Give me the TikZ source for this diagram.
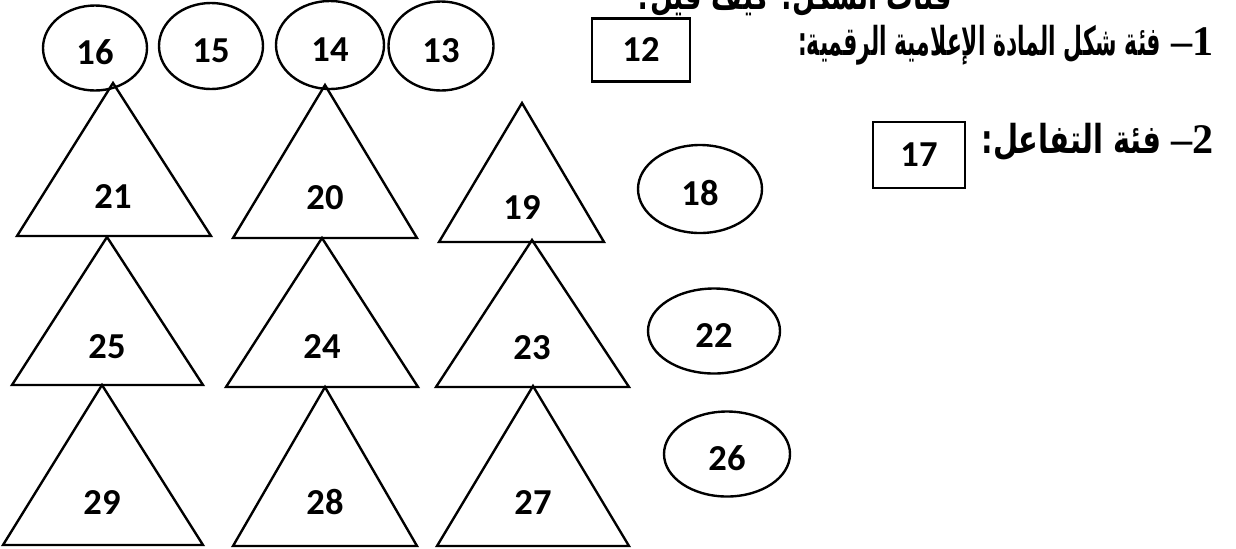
\documentclass[tikz,border=0pt]{standalone}
\usepackage{fontspec}
\usepackage{graphicx}
\usetikzlibrary{shapes.geometric,positioning}
\TeXXeTstate=1
\newfontfamily\numfont{Carlito}
\newfontfamily\arabicfont[Script=Arabic]{DejaVu Sans}
\newfontfamily\digitfont{Liberation Serif Bold}
\newcommand{\headnum}[1]{{\digitfont\fontsize{30}{34}\selectfont –#1}}

\begin{document}
\begin{tikzpicture}[line width=1.7pt,
    oval/.style={ellipse, draw, inner sep=0pt, text height=0.82cm, text depth=0pt, font=\numfont\bfseries\fontsize{26}{30}\selectfont},
    box/.style={rectangle, draw, inner sep=0pt, font=\numfont\bfseries\fontsize{26}{30}\selectfont},
    num/.style={inner sep=0pt, font=\numfont\bfseries\fontsize{26}{30}\selectfont},
    tri/.style={line join=miter},
    rtl/.style={anchor=base east, inner sep=0pt, font=\arabicfont\bfseries\fontsize{21}{26}\selectfont}]

    \useasboundingbox (0,0) rectangle (30.9,-13.7);

    % Headings
    \node[rtl] (head0) at (23.825,-0.225) {\scalebox{0.9}[1.3]{\beginR فئات الشكل: كيف قيل؟\endR}};
    \node[rtl] (head1) at (30.375,-1.375) {\scalebox{0.74}[1.35]{\beginR فئة شكل المادة الإعلامية الرقمية:\endR}\ \headnum{1}};
    \node[rtl] (head2) at (30.375,-3.83) {\scalebox{0.98}[1.35]{\beginR فئة التفاعل:\endR}\ \headnum{2}};

    % Top row
    \node[oval, minimum width=2.6cm, minimum height=2.125cm] (o16) at (2.375,-1.2) {16};
    \node[oval, minimum width=2.6cm, minimum height=2.15cm] (o15) at (5.275,-1.15) {15};
    \node[oval, minimum width=2.7cm, minimum height=2.2cm] (o14) at (8.25,-1.125) {14};
    \node[oval, minimum width=2.625cm, minimum height=2.225cm] (o13) at (11.025,-1.15) {13};
    \node[box, minimum width=2.45cm, minimum height=1.575cm] (b12) at (16.025,-1.25) {12};
    \node[box, minimum width=2.3cm, minimum height=1.65cm] (b17) at (22.975,-3.875) {17};

    % Right column
    \node[oval, minimum width=3.1cm, minimum height=2.2cm] (o18) at (17.5,-4.725) {18};
    \node[oval, minimum width=3.3cm, minimum height=2.125cm] (o22) at (17.85,-8.275) {22};
    \node[oval, minimum width=3.15cm, minimum height=2.125cm] (o26) at (18.175,-11.35) {26};

    % Triangles, first row
    \draw[tri] (2.825,-2.075) -- (5.275,-5.9) -- (0.425,-5.9) -- cycle;
    \node[num] (t21) at (2.825,-4.925) {21};
    \draw[tri] (8.125,-2.125) -- (10.425,-5.95) -- (5.825,-5.95) -- cycle;
    \node[num] (t20) at (8.125,-4.95) {20};
    \draw[tri] (13.05,-2.575) -- (15.1,-6.05) -- (10.975,-6.05) -- cycle;
    \node[num] (t19) at (13.05,-5.2) {19};

    % Triangles, second row
    \draw[tri] (2.675,-5.925) -- (5.075,-9.625) -- (0.3,-9.625) -- cycle;
    \node[num] (t25) at (2.675,-8.675) {25};
    \draw[tri] (8.05,-5.95) -- (10.45,-9.675) -- (5.65,-9.675) -- cycle;
    \node[num] (t24) at (8.05,-8.675) {24};
    \draw[tri] (13.3,-6.0) -- (15.725,-9.675) -- (10.9,-9.675) -- cycle;
    \node[num] (t23) at (13.3,-8.7) {23};

    % Triangles, third row
    \draw[tri] (2.55,-9.625) -- (5.075,-13.625) -- (0.075,-13.625) -- cycle;
    \node[num] (t29) at (2.55,-12.55) {29};
    \draw[tri] (8.125,-9.675) -- (10.425,-13.65) -- (5.825,-13.65) -- cycle;
    \node[num] (t28) at (8.125,-12.55) {28};
    \draw[tri] (13.325,-9.65) -- (15.725,-13.65) -- (10.925,-13.65) -- cycle;
    \node[num] (t27) at (13.325,-12.55) {27};
\end{tikzpicture}
\end{document}
